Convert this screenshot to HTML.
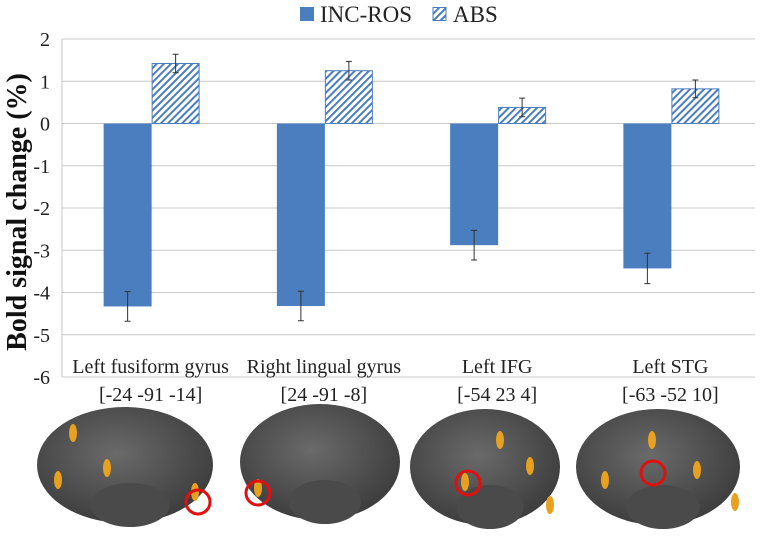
<!DOCTYPE html>
<html><head><meta charset="utf-8"><style>
body{margin:0;background:#fff;width:765px;height:541px;overflow:hidden}
svg{font-family:"Liberation Serif",serif}
</style></head><body>
<svg id="c" width="765" height="541">
<defs>
<pattern id="hatch" patternUnits="userSpaceOnUse" width="5" height="5" patternTransform="rotate(45)">
<rect width="5" height="5" fill="#fff"/><rect width="2" height="5" fill="#4a7ebf"/>
</pattern>
<radialGradient id="brainG" cx="45%" cy="40%" r="65%"><stop offset="0" stop-color="#6a6a6a"/><stop offset="1" stop-color="#3a3a3a"/></radialGradient>
</defs>
<g id="plot"></g>
</svg>
<script>
const categories=["Left fusiform gyrus","Right lingual gyrus","Left IFG","Left STG"];
const coords=["[-24 -91 -14]","[24 -91 -8]","[-54 23 4]","[-63 -52 10]"];
const incRos=[-4.33,-4.32,-2.88,-3.43];
const incErr=[0.35,0.35,0.35,0.36];
const abs=[1.42,1.25,0.38,0.82];
const absErr=[0.22,0.22,0.22,0.21];
const ticks=[2,1,0,-1,-2,-3,-4,-5,-6];
const NS="http://www.w3.org/2000/svg";
const g=document.getElementById('plot');
const x0=62,x1=755,yMax=2,yMin=-6,yTop=39,yBot=377;
const y=v=>yTop+(yMax-v)*(yBot-yTop)/(yMax-yMin);
const bw=(x1-x0)/categories.length;
function mk(t,a,p){const e=document.createElementNS(NS,t);for(const k in a)e.setAttribute(k,a[k]);(p||g).appendChild(e);return e;}
ticks.forEach(t=>{
 const l=mk('line',{x1:x0,x2:x1,y1:y(t),y2:y(t),stroke:'#c8c8c8','stroke-width':1});
 
 
 const tx=mk('text',{x:50,y:y(t)+7,'text-anchor':'end','font-size':20,fill:'#222'});
 tx.textContent=t;
 
 
});
const ax=mk('line',{x1:x0,x2:x0,y1:yTop,y2:yBot,stroke:'#c8c8c8'});


function errbar(cx,v,e){
 const s=mk('path',{d:`M${cx},${y(v-e)}V${y(v+e)}M${cx-3},${y(v-e)}h6M${cx-3},${y(v+e)}h6`,stroke:'#333','stroke-width':1,fill:'none'});
 
 
}
categories.forEach((c,i)=>{
 const cx=x0+bw*i+bw/2+3;
 const w=48;
 const v=incRos[i];
 const b=mk('rect',{x:cx-w,y:y(0),width:w,height:y(v)-y(0),fill:'#4a7ebf'});
 
 
 errbar(cx-w/2,v,incErr[i]);
 const a=abs[i];
 const b2=mk('rect',{x:cx+0.5,y:y(a),width:w-1,height:y(0)-y(a),fill:'url(#hatch)',stroke:'#4a7ebf','stroke-width':1});
 
 
 errbar(cx+w/2,a,absErr[i]);
 const lx=x0+bw*i+bw/2+2;
 const t=mk('text',{x:lx,y:373,'text-anchor':'middle','font-size':20,fill:'#222'});
 t.textContent=c;
 
 
 const t2=mk('text',{x:lx,y:401,'text-anchor':'middle','font-size':20,fill:'#222'});
 t2.textContent=coords[i];
 
 
});
const yt=mk('text',{x:0,y:0,transform:'translate(26,212) rotate(-90)','text-anchor':'middle','font-size':28,'font-weight':'bold',fill:'#111'});
yt.textContent='Bold signal change (%)';


const lg=mk('g',{});


mk('rect',{x:300,y:7,width:14,height:14,fill:'#4a7ebf'},lg);
const l1=mk('text',{x:320,y:22,'font-size':23,fill:'#222'},lg);l1.textContent='INC-ROS';


mk('rect',{x:433,y:7.5,width:13,height:13,fill:'url(#hatch)',stroke:'#4a7ebf'},lg);
const l2=mk('text',{x:453,y:22,'font-size':23,fill:'#222'},lg);l2.textContent='ABS';


const brains=[
 {c:[125,465,88,58],s:[[58,480],[73,433],[107,468],[195,492]],r:[198,502]},
 {c:[320,462,80,58],s:[[258,488]],r:[258,493]},
 {c:[485,467,75,58],s:[[465,482],[500,440],[530,466],[550,505]],r:[468,483]},
 {c:[658,467,82,58],s:[[605,480],[652,440],[697,470],[735,502]],r:[653,473]}
];
brains.forEach(b=>{
 const d=b.c;
 const bg=mk('g',{});
 
 
 mk('ellipse',{cx:d[0],cy:d[1],rx:d[2],ry:d[3],fill:'url(#brainG)'},bg);
 mk('ellipse',{cx:d[0]+5,cy:d[1]+40,rx:d[2]*0.45,ry:22,fill:'#4a4a4a'},bg);
 b.s.forEach(p=>mk('ellipse',{cx:p[0],cy:p[1],rx:4,ry:9,fill:'#e8a020'},bg));
 const rc=mk('circle',{cx:b.r[0],cy:b.r[1],r:12,fill:'none',stroke:'#e01010','stroke-width':3},bg);
 
 
});
</script>
</body></html>
